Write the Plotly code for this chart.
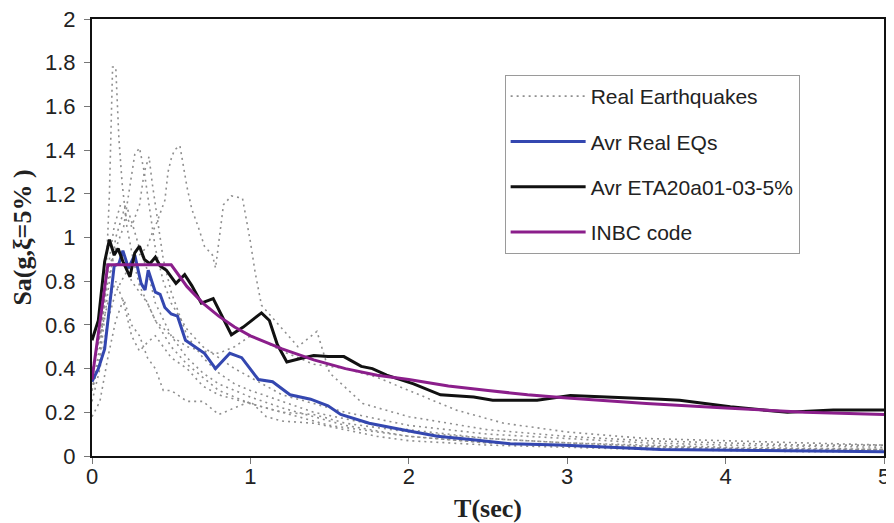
import plotly.graph_objects as go

# ---------------- data ----------------
# Individual real earthquake spectra
eq1_t = [0, 0.05, 0.09, 0.11, 0.13, 0.15, 0.17, 0.19, 0.22, 0.26, 0.3, 0.4, 0.5, 0.6, 0.8, 1.0, 1.2, 1.5, 2.0, 2.5, 3.0, 4.0, 5.0]
eq1_sa = [0.30, 0.45, 0.85, 1.20, 1.78, 1.78, 1.45, 1.25, 1.05, 0.90, 0.78, 0.62, 0.50, 0.42, 0.30, 0.24, 0.20, 0.14, 0.09, 0.06, 0.05, 0.035, 0.03]

eq2_t = [0, 0.05, 0.1, 0.15, 0.2, 0.25, 0.3, 0.35, 0.38, 0.41, 0.46, 0.48, 0.50, 0.52, 0.555, 0.57, 0.60, 0.63, 0.67, 0.71, 0.76, 0.78, 0.83, 0.88, 0.95, 1.0, 1.03, 1.07, 1.19, 1.3, 1.42, 1.5, 1.71, 2.0, 2.5, 3.0, 3.5, 4.0, 4.5, 5.0]
eq2_sa = [0.25, 0.40, 0.62, 0.75, 0.82, 0.88, 0.92, 0.96, 1.02, 1.07, 1.17, 1.30, 1.36, 1.40, 1.42, 1.36, 1.23, 1.13, 1.05, 0.96, 0.92, 0.86, 1.15, 1.19, 1.18, 0.98, 0.84, 0.69, 0.59, 0.50, 0.57, 0.38, 0.24, 0.18, 0.12, 0.09, 0.07, 0.06, 0.05, 0.05]

eq3_t = [0, 0.05, 0.1, 0.15, 0.2, 0.24, 0.27, 0.30, 0.33, 0.36, 0.4, 0.45, 0.5, 0.6, 0.7, 0.8, 0.9, 1.0, 1.2, 1.4, 1.6, 1.8, 2.0, 2.5, 3.0, 3.5, 4.0, 5.0]
eq3_sa = [0.35, 0.55, 0.80, 0.95, 1.05, 1.25, 1.38, 1.41, 1.30, 1.15, 0.95, 0.80, 0.70, 0.58, 0.50, 0.45, 0.40, 0.36, 0.28, 0.24, 0.20, 0.17, 0.14, 0.10, 0.08, 0.06, 0.05, 0.04]

eq4_t = [0, 0.05, 0.1, 0.15, 0.2, 0.25, 0.3, 0.33, 0.36, 0.38, 0.41, 0.45, 0.5, 0.6, 0.7, 0.8, 0.9, 1.0, 1.2, 1.4, 1.6, 1.8, 2.0, 2.5, 3.0, 3.5, 4.0, 4.5, 5.0]
eq4_sa = [0.30, 0.45, 0.75, 1.00, 1.12, 1.05, 1.15, 1.30, 1.37, 1.25, 1.10, 0.90, 0.75, 0.55, 0.45, 0.38, 0.33, 0.30, 0.25, 0.20, 0.17, 0.14, 0.12, 0.08, 0.06, 0.045, 0.035, 0.03, 0.03]

eq5_t = [0, 0.05, 0.1, 0.14, 0.18, 0.22, 0.26, 0.3, 0.35, 0.4, 0.5, 0.6, 0.7, 0.8, 0.9, 1.0, 1.2, 1.4, 1.6, 2.0, 2.5, 3.0, 4.0, 5.0]
eq5_sa = [0.30, 0.50, 0.85, 1.05, 1.15, 1.14, 1.05, 0.95, 0.85, 0.70, 0.55, 0.45, 0.38, 0.33, 0.30, 0.27, 0.22, 0.18, 0.14, 0.09, 0.06, 0.045, 0.03, 0.02]

eq6_t = [0, 0.05, 0.1, 0.15, 0.2, 0.25, 0.3, 0.35, 0.4, 0.45, 0.5, 0.6, 0.7, 0.8, 0.9, 1.0, 1.1, 1.2, 1.4, 1.6, 1.8, 2.0, 2.5, 3.0, 3.5, 4.0, 4.5, 5.0]
eq6_sa = [0.18, 0.25, 0.45, 0.62, 0.72, 0.60, 0.55, 0.45, 0.40, 0.30, 0.30, 0.25, 0.25, 0.19, 0.22, 0.25, 0.18, 0.16, 0.15, 0.12, 0.09, 0.07, 0.05, 0.04, 0.03, 0.025, 0.02, 0.02]

eq7_t = [0, 0.05, 0.1, 0.15, 0.2, 0.25, 0.3, 0.35, 0.4, 0.5, 0.6, 0.7, 0.8, 0.9, 1.0, 1.1, 1.2, 1.4, 1.6, 1.8, 2.0, 2.3, 2.6, 3.0, 3.5, 4.0, 4.5, 5.0]
eq7_sa = [0.35, 0.60, 0.85, 0.95, 0.90, 0.80, 0.75, 0.70, 0.62, 0.55, 0.50, 0.48, 0.47, 0.50, 0.55, 0.52, 0.48, 0.42, 0.40, 0.36, 0.30, 0.21, 0.15, 0.11, 0.08, 0.07, 0.06, 0.05]

eq8_t = [0, 0.05, 0.1, 0.15, 0.2, 0.25, 0.3, 0.35, 0.4, 0.45, 0.5, 0.6, 0.7, 0.8, 0.9, 1.0, 1.2, 1.4, 1.6, 1.8, 2.0, 2.5, 3.0, 4.0, 5.0]
eq8_sa = [0.40, 0.55, 0.70, 0.80, 0.70, 0.55, 0.48, 0.52, 0.55, 0.50, 0.45, 0.40, 0.32, 0.28, 0.26, 0.24, 0.20, 0.19, 0.15, 0.13, 0.11, 0.08, 0.06, 0.04, 0.03]

# Average of real earthquakes
avr_real_t = [0, 0.04, 0.08, 0.12, 0.14, 0.17, 0.195, 0.23, 0.27, 0.31, 0.335, 0.355, 0.40, 0.43, 0.46, 0.50, 0.54, 0.59, 0.65, 0.71, 0.78, 0.87, 0.945, 1.05, 1.14, 1.25, 1.38, 1.49, 1.57, 1.75, 1.96, 2.18, 2.39, 2.64, 2.95, 3.59, 4.2, 5.0]
avr_real_sa = [0.34, 0.40, 0.49, 0.76, 0.87, 0.88, 0.94, 0.86, 0.92, 0.79, 0.76, 0.85, 0.75, 0.74, 0.68, 0.65, 0.64, 0.53, 0.50, 0.47, 0.40, 0.47, 0.45, 0.35, 0.34, 0.28, 0.26, 0.23, 0.19, 0.15, 0.12, 0.09, 0.075, 0.056, 0.05, 0.03, 0.025, 0.02]

# Average of artificial (ETA) records
avr_eta_t = [0, 0.04, 0.08, 0.11, 0.14, 0.165, 0.195, 0.24, 0.27, 0.30, 0.33, 0.365, 0.40, 0.43, 0.47, 0.53, 0.585, 0.63, 0.69, 0.765, 0.88, 0.955, 1.07, 1.12, 1.17, 1.23, 1.31, 1.40, 1.49, 1.59, 1.70, 1.77, 1.86, 2.03, 2.20, 2.41, 2.53, 2.81, 3.02, 3.29, 3.59, 3.71, 4.03, 4.39, 4.68, 5.0]
avr_eta_sa = [0.53, 0.62, 0.89, 0.99, 0.92, 0.95, 0.89, 0.82, 0.93, 0.96, 0.90, 0.88, 0.91, 0.87, 0.85, 0.79, 0.83, 0.78, 0.70, 0.72, 0.555, 0.59, 0.655, 0.62, 0.51, 0.43, 0.445, 0.46, 0.455, 0.455, 0.41, 0.40, 0.37, 0.33, 0.28, 0.27, 0.255, 0.255, 0.277, 0.27, 0.26, 0.255, 0.225, 0.20, 0.21, 0.21]

# INBC code design spectrum
inbc_t = [0, 0.1, 0.5, 0.6, 0.7, 0.8, 0.9, 1.0, 1.2, 1.4, 1.6, 1.8, 2.0, 2.25, 2.5, 2.75, 3.0, 3.5, 4.0, 4.5, 5.0]
inbc_sa = [0.35, 0.875, 0.875, 0.775, 0.70, 0.64, 0.59, 0.55, 0.49, 0.44, 0.40, 0.37, 0.35, 0.32, 0.30, 0.28, 0.265, 0.24, 0.22, 0.20, 0.19]

x_ticks = [0, 1, 2, 3, 4, 5]
y_ticks = [0, 0.2, 0.4, 0.6, 0.8, 1, 1.2, 1.4, 1.6, 1.8, 2]

real_eqs = [(eq1_t, eq1_sa), (eq2_t, eq2_sa), (eq3_t, eq3_sa), (eq4_t, eq4_sa),
            (eq5_t, eq5_sa), (eq6_t, eq6_sa), (eq7_t, eq7_sa), (eq8_t, eq8_sa)]

# ---------------- figure ----------------
fig = go.Figure()

for i, (t, sa) in enumerate(real_eqs):
    fig.add_trace(go.Scatter(
        x=t, y=sa, mode="lines", name="Real Earthquakes",
        line=dict(color="#8f8f8f", width=1.6, dash="2px,4px"),
        legendgroup="real", showlegend=(i == 0)))

fig.add_trace(go.Scatter(x=avr_real_t, y=avr_real_sa, mode="lines", name="Avr Real EQs",
                         line=dict(color="#3447b0", width=3), legendgroup="avr"))
fig.add_trace(go.Scatter(x=avr_eta_t, y=avr_eta_sa, mode="lines", name="Avr ETA20a01-03-5%",
                         line=dict(color="#111111", width=3), legendgroup="eta"))
fig.add_trace(go.Scatter(x=inbc_t, y=inbc_sa, mode="lines", name="INBC code",
                         line=dict(color="#8b1e8b", width=3), legendgroup="inbc"))

axis_font = dict(family="Liberation Sans, Arial, sans-serif", size=22, color="#222222")
title_font = dict(family="Liberation Serif, Times New Roman, serif", size=26, color="#222222")

# The page adds an 8px body margin, so the figure is 8px smaller than the window.
fig.update_layout(
    width=886, height=515,
    margin=dict(l=84, r=10, t=11, b=67),
    paper_bgcolor="white", plot_bgcolor="white",
    showlegend=True,
    legend=dict(
        x=0.521, y=0.872, xanchor="left", yanchor="top",
        bgcolor="white", bordercolor="#9a9a9a", borderwidth=1,
        font=dict(family="Liberation Sans, Arial, sans-serif", size=21, color="#222222"),
        tracegroupgap=15, itemwidth=75,
    ),
    xaxis=dict(
        range=[0, 5], tickvals=x_ticks, ticktext=[str(v) for v in x_ticks],
        showgrid=False, zeroline=False, automargin=False,
        showline=True, linecolor="#111111", linewidth=2, mirror=True,
        ticks="outside", ticklen=6, tickcolor="#777777",
        tickfont=axis_font, ticklabelstandoff=-6, ticklabeloverflow="allow",
        title=dict(text="<b>T(sec)</b>", font=title_font),
    ),
    yaxis=dict(
        range=[0, 2], tickvals=y_ticks, ticktext=[f"{v:g}" for v in y_ticks],
        showgrid=False, zeroline=False, automargin=False,
        showline=True, linecolor="#111111", linewidth=2, mirror=True,
        ticks="outside", ticklen=6, tickcolor="#777777",
        tickfont=axis_font, ticklabelstandoff=4, ticklabeloverflow="allow",
        title=dict(text="<b>Sa(g,ξ=5% )</b>", font=title_font),
    ),
)

fig.write_html("out.html")
